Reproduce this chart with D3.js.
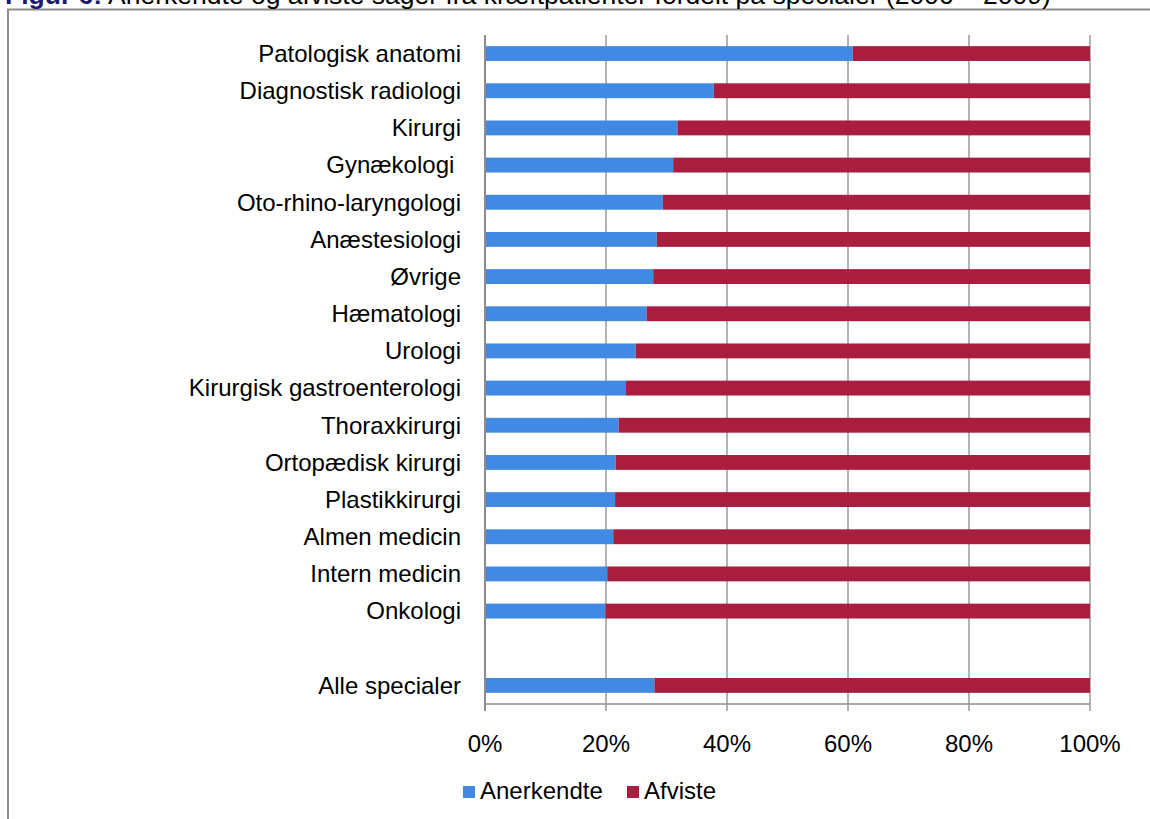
<!DOCTYPE html>
<html><head><meta charset="utf-8">
<script src="https://cdn.jsdelivr.net/npm/d3@7"></script>
<style>body{margin:0;background:#fff;}svg{display:block;font-family:"Liberation Sans",Arial,sans-serif;}</style>
</head><body>
<svg id="c" width="1150" height="819"></svg>
<script>
const categories = ["Patologisk anatomi","Diagnostisk radiologi","Kirurgi","Gynækologi ","Oto-rhino-laryngologi","Anæstesiologi","Øvrige","Hæmatologi","Urologi","Kirurgisk gastroenterologi","Thoraxkirurgi","Ortopædisk kirurgi","Plastikkirurgi","Almen medicin","Intern medicin","Onkologi","","Alle specialer"];
const anerkendte = [60.8,37.8,31.8,31.1,29.4,28.4,27.8,26.7,24.9,23.3,22.1,21.6,21.5,21.2,20.2,19.9,null,28.0];
const afviste    = [39.2,62.2,68.2,68.9,70.6,71.6,72.2,73.3,75.1,76.7,77.9,78.4,78.5,78.8,79.8,80.1,null,72.0];
const seriesNames = ["Anerkendte","Afviste"];
const seriesColors = ["#4289e4","#a91d3f"];
const xTicks = [0,20,40,60,80,100];

const svg = d3.select("#c");
// frame
svg.append("rect").attr("x",8).attr("y",9.5).attr("width",1160).attr("height",830)
  .attr("fill","none").attr("stroke","#8c8c8c").attr("stroke-width",2);
// title (cut off at top, as in the reference)
const t = svg.append("text").attr("x",5).attr("y",4).attr("font-size",26.5).attr("fill","#000");
t.append("tspan").attr("font-weight","bold").attr("fill","#1a1a6e").text("Figur 6:");
t.append("tspan").text(" Anerkendte og afviste sager fra kræftpatienter fordelt på specialer (2006 – 2009)");

const x = d3.scaleLinear().domain([0,100]).range([485,1090]);
const y = d3.scaleBand().domain(d3.range(categories.length)).range([35,704]).paddingInner(0.6).paddingOuter(0.3);

// gridlines
svg.append("g").selectAll("line").data(xTicks.slice(1)).join("line")
  .attr("x1",d=>x(d)).attr("x2",d=>x(d)).attr("y1",35).attr("y2",711)
  .attr("stroke","#9a9a9a").attr("stroke-width",1.5);

const rows = categories.map((c,i)=>({c,i,a:anerkendte[i],b:afviste[i]})).filter(d=>d.a!=null);
const g = svg.append("g");
g.selectAll("rect.a").data(rows).join("rect").attr("class","a")
  .attr("x",x(0)).attr("y",d=>y(d.i)).attr("height",y.bandwidth())
  .attr("width",d=>x(d.a)-x(0)).attr("fill",seriesColors[0]);
g.selectAll("rect.b").data(rows).join("rect").attr("class","b")
  .attr("x",d=>x(d.a)).attr("y",d=>y(d.i)).attr("height",y.bandwidth())
  .attr("width",d=>x(d.a+d.b)-x(d.a)).attr("fill",seriesColors[1]);

// axes
svg.append("line").attr("x1",x(0)).attr("x2",x(0)).attr("y1",35).attr("y2",711).attr("stroke","#8c8c8c").attr("stroke-width",2);
svg.append("line").attr("x1",x(0)).attr("x2",x(100)).attr("y1",704).attr("y2",704).attr("stroke","#8c8c8c").attr("stroke-width",1.5);

svg.append("g").selectAll("text").data(xTicks).join("text")
  .attr("x",d=>x(d)).attr("y",752).attr("text-anchor","middle").attr("font-size",24)
  .text(d=>d+"%");

svg.append("g").selectAll("text").data(rows).join("text")
  .attr("x",461).attr("y",d=>y(d.i)+y.bandwidth()/2).attr("dy","0.35em")
  .attr("text-anchor","end").attr("font-size",24).attr("xml:space","preserve").style("white-space","pre")
  .text(d=>d.c);

// legend
const lg = svg.append("g");
const lx = [463,627];
seriesNames.forEach((n,i)=>{
  lg.append("rect").attr("x",lx[i]).attr("y",786).attr("width",12).attr("height",12).attr("fill",seriesColors[i]);
  lg.append("text").attr("x",lx[i]+17).attr("y",799).attr("font-size",24).text(n);
});
</script>
</body></html>
